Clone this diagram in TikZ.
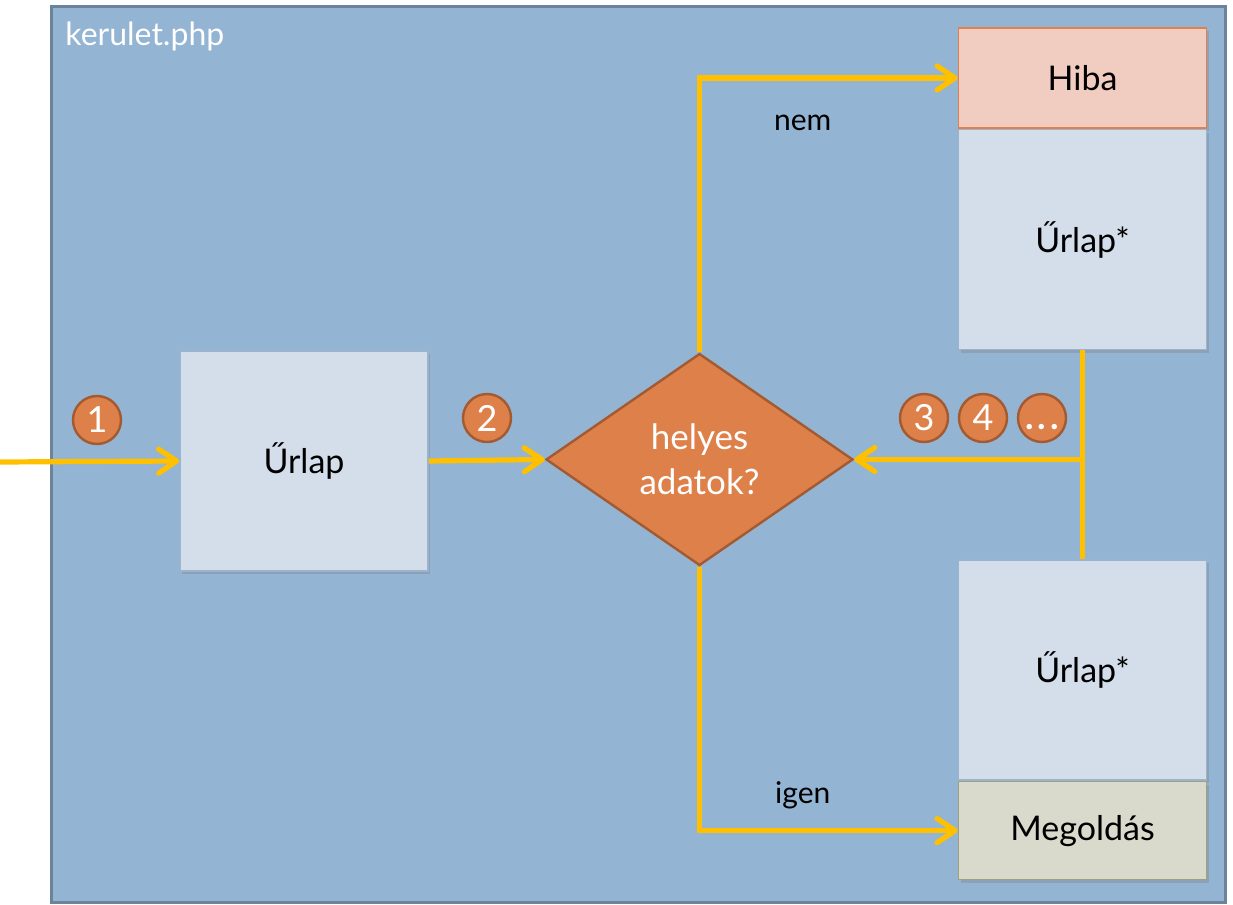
\documentclass[tikz,border=0pt]{standalone}
\usepackage{fontspec}
\setmainfont{Lato}
\usepackage{tikz}
\usetikzlibrary{positioning,shapes.geometric,arrows.meta,shadows}

\definecolor{framefill}{HTML}{93B4D2}
\definecolor{frameline}{HTML}{6B8499}
\definecolor{boxfill}{HTML}{D3DEEA}
\definecolor{boxline}{HTML}{9AB4CF}
\definecolor{errfill}{HTML}{F0CDC0}
\definecolor{errline}{HTML}{E0804A}
\definecolor{okfill}{HTML}{D9DACB}
\definecolor{okline}{HTML}{9EA27C}
\definecolor{decfill}{HTML}{DE8049}
\definecolor{decline}{HTML}{A35A31}
\definecolor{flow}{HTML}{FFC000}

\tikzset{
    boxtext/.style={font=\fontsize{17}{20}\selectfont},
    formbox/.style={rectangle, draw=boxline, fill=boxfill, line width=0.8pt,
        minimum width=124pt, minimum height=110pt, boxtext,
        drop shadow={opacity=0.35, shadow xshift=1pt, shadow yshift=-1.5pt}},
    errbox/.style={formbox, draw=errline, fill=errfill, minimum height=50pt},
    okbox/.style={formbox, draw=okline, fill=okfill, minimum height=49pt},
    decision/.style={diamond, draw=decline, fill=decfill, line width=1.2pt,
        minimum width=153.5pt, minimum height=106pt, inner sep=0pt,
        text=white, align=center, font=\fontsize{17.5}{22.5}\selectfont},
    stepnum/.style={circle, draw=decline, fill=decfill, line width=1.2pt,
        minimum size=24pt, inner sep=0pt, text=white,
        font=\fontsize{18}{20}\selectfont},
    flowline/.style={draw=flow, line width=2.6pt,
        -{Straight Barb[length=9pt, width=12pt, line cap=round, line join=round]}},
    branch/.style={font=\fontsize{15}{18}\selectfont}
}

\begin{document}
\begin{tikzpicture}[x=0.5pt, y=-0.5pt]
    \useasboundingbox (0,0) rectangle (1233,905);

    % php file frame
    \draw[frameline, fill=framefill, line width=1.5pt] (51,6) rectangle (1225,902);
    \node[anchor=base west, text=white, font=\fontsize{16}{18}\selectfont,
        inner sep=0pt] (title) at (65,45) {kerulet.php};

    % nodes
    \node[formbox] (form) at (304,461) {Űrlap};
    \node[decision] (check) at (699.5,459.5) {helyes\\adatok?};
    \node[errbox] (hiba) at (1082.5,78) {Hiba};
    \node[formbox, below=0pt of hiba] (formA) {Űrlap*};
    \node[formbox] (formB) at (1082.5,670) {Űrlap*};
    \node[okbox, below=0pt of formB] (megold) {Megoldás};

    % step numbers
    \node[stepnum] (n1) at (97,420) {1};
    \node[stepnum] (n2) at (487,418) {2};
    \node[stepnum] (n3) at (924,418) {3};
    \node[stepnum] (n4) at (983,418) {4};
    \node[stepnum] (n5) at (1042,418)
        {\raisebox{-5.5pt}[0pt][0pt]{\textbf{.\kern2pt.\kern2pt.}}};

    \coordinate (start) at (0,462);

    % connectors
    \draw[flowline] (start) -- (form.west);
    \draw[flowline] (form.east) -- (check.west);
    \draw[flowline] (check.north) |- (hiba.west)
        node[branch, pos=0.7, below=14pt] (nem) {nem};
    \draw[flowline] (check.south) |- (megold.west)
        node[branch, pos=0.7, above=6pt] (igen) {igen};
    \draw[draw=flow, line width=2.6pt] (formA.south) -- (formB.north);
    \draw[flowline] (formA.south |- check.east) -- (check.east);
\end{tikzpicture}
\end{document}
